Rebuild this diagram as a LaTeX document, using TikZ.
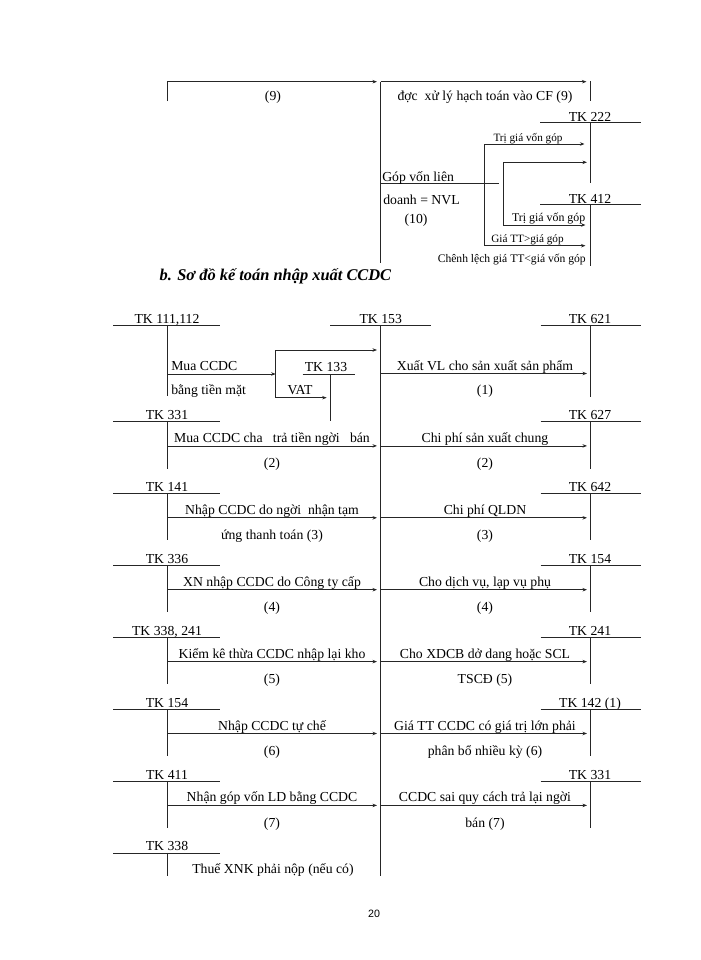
\documentclass[tikz,border=0pt]{standalone}
\usepackage{fontspec}
\setmainfont{Liberation Serif}
\newfontfamily\pgnumfont{Liberation Sans}
\usetikzlibrary{arrows.meta}
\begin{document}
\begin{tikzpicture}[x=0.75pt,y=-0.75pt,
  ln/.style={line width=0.55pt, draw=black!85},
  arr/.style={ln,-{Stealth[length=3.4pt,width=2.6pt]}},
  lbl/.style={font=\fontsize{10.3}{12}\selectfont, inner sep=0pt},
  sm/.style={font=\fontsize{8.4}{9}\selectfont, inner sep=0pt},
  smb/.style={font=\fontsize{8.9}{10}\selectfont, inner sep=0pt},
  smc/.style={font=\fontsize{8.7}{10}\selectfont, inner sep=0pt},
  ttl/.style={font=\fontsize{12.3}{15}\selectfont\bfseries\itshape, inner sep=0pt},
  pgn/.style={font=\pgnumfont\fontsize{8}{9}\selectfont, inner sep=0pt}]
\useasboundingbox[fill=white] (0,0) rectangle (700,960);

% ---------------- top section ----------------
\coordinate (a9s) at (167,101);
\coordinate (a9c) at (167,81.7);
\coordinate (a9e) at (377,81.7);
\draw[ln] (a9s) -- (a9c);
\draw[arr] (a9c) -- (a9e);
\node[lbl,anchor=base] (t9a) at (273,100) {(9)};

\coordinate (mvt) at (380.7,81.7);
\coordinate (mvb) at (380.7,263);
\draw[ln] (mvt) -- (mvb);
\coordinate (cfe) at (586.5,81.7);
\draw[arr] (mvt) -- (cfe);
\coordinate (cft) at (590.7,81);
\coordinate (cfb) at (590.7,101);
\draw[ln] (cft) -- (cfb);
\node[lbl,anchor=base] (t9b) at (485,100.5) {đợc\ \ xử lý hạch toán vào CF (9)};

% TK 222
\node[lbl,anchor=base] (tk222) at (590,121) {TK 222};
\coordinate (tk222a) at (540,122.3);
\coordinate (tk222b) at (641,122.3);
\coordinate (tk222v) at (590.7,122.3);
\coordinate (tk222w) at (590.7,183.3);
\draw[ln] (tk222a) -- (tk222b);
\draw[ln] (tk222v) -- (tk222w);

% TK 412
\node[lbl,anchor=base] (tk412) at (590,203) {TK 412};
\coordinate (tk412a) at (540,204.3);
\coordinate (tk412b) at (641,204.3);
\coordinate (tk412v) at (590.7,204.3);
\coordinate (tk412w) at (590.7,265.7);
\draw[ln] (tk412a) -- (tk412b);
\draw[ln] (tk412v) -- (tk412w);

% branch from contribution line
\coordinate (gva) at (380.7,183.3);
\coordinate (gvb) at (499.3,183.3);
\draw[ln] (gva) -- (gvb);
\coordinate (b1t) at (484,144);
\coordinate (b1b) at (484,245.7);
\draw[ln] (b1t) -- (b1b);
\coordinate (b1e) at (584.5,144);
\draw[arr] (b1t) -- (b1e);
\node[sm,anchor=base] (tg1) at (528,141) {Trị giá vốn góp};
\coordinate (b2t) at (503.3,162.3);
\coordinate (b2b) at (503.3,225);
\draw[ln] (b2t) -- (b2b);
\coordinate (b2e) at (587,162.3);
\draw[arr] (b2t) -- (b2e);
\coordinate (b2f) at (585.5,225);
\draw[arr] (b2b) -- (b2f);
\node[smb,anchor=base east] (tg2) at (585.5,221.7) {Trị giá vốn góp};
\coordinate (b1f) at (585.5,245.7);
\draw[arr] (b1b) -- (b1f);
\node[sm,anchor=base] (gtt) at (527.5,242.3) {Giá TT>giá góp};
\node[smc,anchor=base east] (clg) at (586,262.3) {Chênh lệch giá TT<giá vốn góp};

\node[lbl,anchor=base west] (gv1) at (382,181.5) {Góp vốn liên};
\node[lbl,anchor=base west] (gv2) at (383,204.3) {doanh = NVL};
\node[lbl,anchor=base] (gv3) at (416,223.3) {(10)};

% title
\node[ttl,anchor=base west] (title) at (159.3,280) {b. Sơ đồ kế toán nhập xuất CCDC};

% ---------------- bottom section ----------------
% TK 153 (centre)
\node[lbl,anchor=base] (tk153) at (380.7,323.7) {TK 153};
\coordinate (tk153a) at (330,325.7);
\coordinate (tk153b) at (431,325.7);
\coordinate (tk153v) at (380.7,325.7);
\coordinate (tk153w) at (380.7,876);
\draw[ln] (tk153a) -- (tk153b);
\draw[ln] (tk153v) -- (tk153w);

% row 1 left: TK 111,112
\node[lbl,anchor=base] (tk111) at (167,323.7) {TK 111,112};
\coordinate (tk111a) at (113,325.7);
\coordinate (tk111b) at (220,325.7);
\coordinate (tk111v) at (167,325.7);
\coordinate (tk111w) at (167,396);
\draw[ln] (tk111a) -- (tk111b);
\draw[ln] (tk111v) -- (tk111w);
\coordinate (m1a) at (167,374);
\coordinate (m1b) at (275.7,374);
\draw[arr] (m1a) -- (m1b);
\node[lbl,anchor=base west] (m1t) at (171,370.7) {Mua CCDC};
\node[lbl,anchor=base west] (m1u) at (171,394.3) {bằng tiền mặt};
\coordinate (brt) at (275.7,350);
\coordinate (brb) at (275.7,397.7);
\draw[ln] (brt) -- (brb);
\coordinate (bre) at (377,350);
\draw[arr] (brt) -- (bre);
\coordinate (brf) at (326.7,397.7);
\draw[arr] (brb) -- (brf);
\node[lbl,anchor=base] (vat) at (300,394.3) {VAT};
% TK 133
\node[lbl,anchor=base] (tk133) at (326,371) {TK 133};
\coordinate (tk133a) at (302.7,374);
\coordinate (tk133b) at (355,374);
\coordinate (tk133v) at (330,374);
\coordinate (tk133w) at (330,421);
\draw[ln] (tk133a) -- (tk133b);
\draw[ln] (tk133v) -- (tk133w);

% row 1 right: TK 621
\node[lbl,anchor=base] (tk621) at (590,323.7) {TK 621};
\coordinate (tk621a) at (540.7,325.7);
\coordinate (tk621b) at (641,325.7);
\coordinate (tk621v) at (590.7,325.7);
\coordinate (tk621w) at (590.7,396.7);
\draw[ln] (tk621a) -- (tk621b);
\draw[ln] (tk621v) -- (tk621w);
\coordinate (r1a) at (380.7,373.5);
\coordinate (r1b) at (587,373.5);
\draw[arr] (r1a) -- (r1b);
\node[lbl,anchor=base] (r1t) at (485,370.2) {Xuất\ VL cho sản xuất sản phẩm};
\node[lbl,anchor=base] (r1u) at (485,394.5) {(1)};

% left blocks
\foreach \n/\L/\tk/\up/\dn in {
  2/421.5/{TK 331}/{Mua CCDC cha\ \ \ trả tiền ngời\ \ \ bán}/{(2)},
  3/493.4/{TK 141}/{Nhập CCDC do ngời\ \ nhận tạm}/{ứng thanh toán (3)},
  4/565.3/{TK 336}/{XN nhập CCDC do Công ty cấp}/{(4)},
  5/637.2/{TK 338, 241}/{Kiểm kê thừa CCDC nhập lại kho}/{(5)},
  6/709.1/{TK 154}/{Nhập CCDC tự chế}/{(6)},
  7/781.0/{TK 411}/{Nhận góp vốn LD bằng CCDC}/{(7)}}{
  \node[lbl,anchor=base] (Ltk\n) at (167,{\L-2}) {\tk};
  \coordinate (Lh\n a) at (113,\L);
  \coordinate (Lh\n b) at (220,\L);
  \coordinate (Lv\n a) at (167,\L);
  \coordinate (Lv\n b) at (167,{\L+47});
  \draw[ln] (Lh\n a) -- (Lh\n b);
  \draw[ln] (Lv\n a) -- (Lv\n b);
  \coordinate (La\n) at (167,{\L+24.4});
  \coordinate (Lb\n) at (377,{\L+24.4});
  \draw[arr] (La\n) -- (Lb\n);
  \node[lbl,anchor=base] (Lu\n) at (272,{\L+20.9}) {\up};
  \node[lbl,anchor=base] (Ld\n) at (272,{\L+46}) {\dn};
}

% right blocks
\foreach \n/\L/\tk/\up/\dn in {
  2/421.5/{TK 627}/{Chi phí sản xuất chung}/{(2)},
  3/493.4/{TK 642}/{Chi phí QLDN}/{(3)},
  4/565.3/{TK 154}/{Cho dịch vụ, lạp vụ phụ}/{(4)},
  5/637.2/{TK 241}/{Cho XDCB dở dang hoặc SCL}/{TSCĐ (5)},
  6/709.1/{TK 142 (1)}/{Giá TT CCDC có giá trị lớn phải}/{phân bổ nhiều kỳ (6)},
  7/781.0/{TK 331}/{CCDC sai quy cách trả lại ngời}/{bán (7)}}{
  \node[lbl,anchor=base] (Rtk\n) at (590,{\L-2}) {\tk};
  \coordinate (Rh\n a) at (540.7,\L);
  \coordinate (Rh\n b) at (641,\L);
  \coordinate (Rv\n a) at (590.7,\L);
  \coordinate (Rv\n b) at (590.7,{\L+47});
  \draw[ln] (Rh\n a) -- (Rh\n b);
  \draw[ln] (Rv\n a) -- (Rv\n b);
  \coordinate (Ra\n) at (380.7,{\L+24.4});
  \coordinate (Rb\n) at (587,{\L+24.4});
  \draw[arr] (Ra\n) -- (Rb\n);
  \node[lbl,anchor=base] (Ru\n) at (485,{\L+20.9}) {\up};
  \node[lbl,anchor=base] (Rd\n) at (485,{\L+46}) {\dn};
}

% last left block: TK 338
\node[lbl,anchor=base] (tk338) at (167,850.9) {TK 338};
\coordinate (tk338a) at (113,852.9);
\coordinate (tk338b) at (220,852.9);
\coordinate (tk338v) at (167,852.9);
\coordinate (tk338w) at (167,876);
\draw[ln] (tk338a) -- (tk338b);
\draw[ln] (tk338v) -- (tk338w);
\node[lbl,anchor=base] (thue) at (273,873.3) {Thuế XNK phải nộp (nếu có)};

% page number
\node[pgn,anchor=base] (pg) at (374,917.3) {20};
\end{tikzpicture}
\end{document}
